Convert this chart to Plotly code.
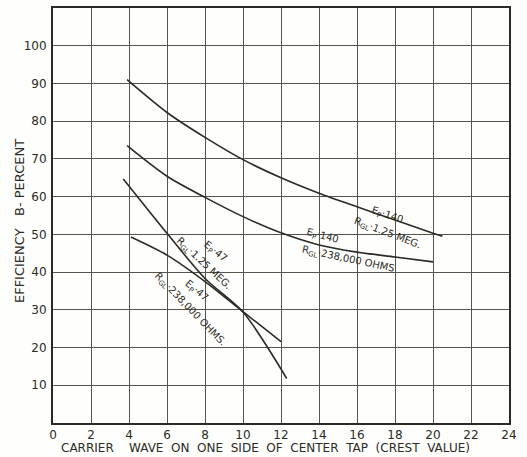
import plotly.graph_objects as go

# Data (carrier crest value vs. efficiency %)
x_ep140_125 = [3.9, 6, 8, 10, 12, 14, 16, 18, 20, 20.5]
y_ep140_125 = [91.0, 82.3, 75.7, 69.8, 65.0, 60.9, 57.3, 53.8, 50.3, 49.5]

x_ep140_238 = [3.9, 6, 8, 10, 12, 14, 16, 18, 20]
y_ep140_238 = [73.5, 65.4, 59.8, 54.7, 50.4, 47.2, 45.3, 44.0, 42.7]

x_ep47_125 = [3.7, 6, 8, 10, 12.3]
y_ep47_125 = [64.7, 50.3, 38.3, 29.4, 11.8]

x_ep47_238 = [4.1, 6, 8, 10, 12]
y_ep47_238 = [49.3, 44.5, 37.5, 29.5, 21.6]

x_ticks = list(range(0, 25, 2))
y_ticks = list(range(10, 101, 10))
y_ticklabels = [str(v) for v in y_ticks]

ink = "#2b2b26"
grid = "#55554b"
font_fam = "DejaVu Sans, Liberation Sans, sans-serif"

fig = go.Figure()
for xs, ys in [(x_ep140_125, y_ep140_125), (x_ep140_238, y_ep140_238),
               (x_ep47_125, y_ep47_125), (x_ep47_238, y_ep47_238)]:
    fig.add_trace(go.Scatter(x=xs, y=ys, mode="lines",
                             line=dict(color=ink, width=1.6, shape="spline", smoothing=0.8),
                             showlegend=False, hoverinfo="skip"))

labels = [
    ("E<sub>P</sub>·140", 17.6, 55.1, 18),
    ("R<sub>GL</sub>·1.25 MEG.", 17.6, 50.2, 21),
    ("E<sub>P</sub>·140", 14.2, 49.4, 14),
    ("R<sub>GL</sub>·238,000 OHMS", 15.5, 43.4, 12),
    ("E<sub>P</sub>·47", 8.5, 45.4, 38),
    ("R<sub>GL</sub>·1.25 MEG.", 7.9, 42.2, 43),
    ("E<sub>P</sub>·47", 7.5, 35.0, 40),
    ("R<sub>GL</sub>·238,000 OHMS.", 7.2, 30.0, 46),
]
for txt, lx, ly, ang in labels:
    fig.add_annotation(x=lx, y=ly, text=txt, showarrow=False, textangle=ang,
                       font=dict(family=font_fam, size=10, color=ink))

sp = "&nbsp;"
xtitle = (sp * 2).join(["WAVE", "ON", "ONE", "SIDE", "OF", "CENTER", "TAP", "(CREST", "VALUE)"])
xtitle = "CARRIER" + sp * 4 + xtitle
ytitle = "EFFICIENCY" + sp * 3 + "B-" + sp + "PERCENT"

fig.add_annotation(xref="paper", yref="paper", x=0.467, y=-0.06,
                   text=xtitle, showarrow=False, yanchor="middle",
                   font=dict(family=font_fam, size=12, color=ink))
fig.add_annotation(xref="paper", yref="paper", x=-0.072, y=0.487,
                   text=ytitle, textangle=-90,
                   showarrow=False, xanchor="center", yanchor="middle",
                   font=dict(family=font_fam, size=13, color=ink))

fig.update_xaxes(range=[0, 24], tickmode="array", tickvals=x_ticks,
                 ticktext=[str(v) for v in x_ticks],
                 showgrid=True, gridcolor=grid, gridwidth=1.3,
                 showline=True, linecolor=ink, linewidth=2, mirror=True,
                 zeroline=False, ticks="",
                 tickfont=dict(family=font_fam, size=12, color=ink))
fig.update_yaxes(range=[0, 110], tickmode="array", tickvals=y_ticks, ticktext=y_ticklabels,
                 showgrid=True, gridcolor=grid, gridwidth=1.3,
                 showline=True, linecolor=ink, linewidth=2, mirror=True,
                 zeroline=False, ticks="outside", ticklen=2, tickcolor="rgba(0,0,0,0)",
                 tickfont=dict(family=font_fam, size=12, color=ink))

fig.update_layout(width=527, height=457,
                  margin=dict(l=53, r=18, t=6, b=34),
                  plot_bgcolor="#fefefc", paper_bgcolor="#fefefc",
                  font=dict(family=font_fam, color=ink))

fig.write_html("out.html", config={"displayModeBar": False},
               post_script="document.body.style.margin='0';")
